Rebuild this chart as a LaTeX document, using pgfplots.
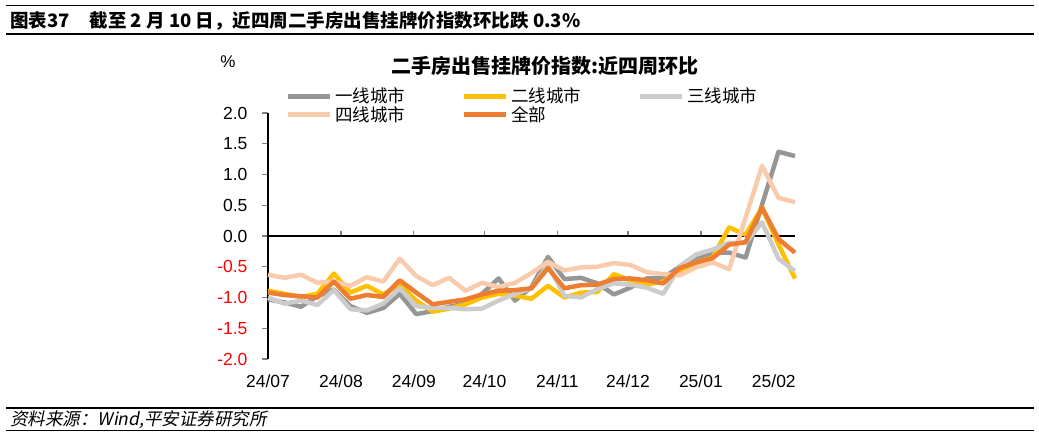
\documentclass[border=0pt]{standalone}
\usepackage{fontspec}
\usepackage{pgfplots}
\usepackage{pgfplotstable}
\pgfplotsset{compat=1.18}
\setmainfont{Liberation Sans}
\newfontfamily\cjk{Noto Sans CJK SC}
\newfontfamily\cjkit[FakeSlant=0.2]{Noto Sans CJK SC}

\definecolor{c1}{RGB}{150,150,150}
\definecolor{c2}{RGB}{255,192,0}
\definecolor{c3}{RGB}{204,204,204}
\definecolor{c4}{RGB}{248,203,173}
\definecolor{c5}{RGB}{237,125,49}

% weekly, x = days since 2024-07-01
\pgfplotstableread{
x   g1    g2    g3    g4    all
0   -1.03 -0.89 -1.00 -0.63 -0.92
7   -1.08 -0.94 -1.10 -0.68 -0.96
14  -1.15 -0.99 -1.05 -0.63 -0.98
21  -0.98 -0.94 -1.12 -0.76 -1.00
28  -0.87 -0.61 -0.88 -0.74 -0.74
35  -1.14 -0.92 -1.19 -0.81 -1.02
42  -1.25 -0.81 -1.21 -0.67 -0.96
49  -1.17 -0.95 -1.10 -0.74 -0.99
56  -0.94 -0.79 -0.85 -0.37 -0.72
63  -1.27 -1.05 -1.14 -0.65 -0.92
70  -1.22 -1.23 -1.17 -0.80 -1.11
77  -1.15 -1.18 -1.17 -0.68 -1.07
84  -1.10 -1.11 -1.19 -0.89 -1.03
91  -0.94 -1.00 -1.18 -0.76 -0.95
98  -0.69 -0.94 -1.05 -0.83 -0.89
105 -1.05 -0.97 -0.94 -0.76 -0.88
112 -0.83 -1.02 -0.85 -0.60 -0.85
119 -0.34 -0.81 -0.47 -0.42 -0.52
126 -0.70 -1.00 -0.97 -0.56 -0.85
133 -0.68 -0.92 -1.00 -0.51 -0.80
140 -0.77 -0.91 -0.86 -0.50 -0.79
147 -0.95 -0.62 -0.77 -0.44 -0.70
154 -0.84 -0.72 -0.79 -0.47 -0.69
161 -0.69 -0.79 -0.84 -0.59 -0.72
168 -0.68 -0.74 -0.94 -0.62 -0.77
175 -0.50 -0.57 -0.49 -0.64 -0.52
182 -0.38 -0.43 -0.30 -0.51 -0.43
189 -0.27 -0.35 -0.22 -0.43 -0.36
196 -0.27  0.14 -0.11 -0.54 -0.14
203 -0.35  0.02 -0.11  0.30 -0.10
210  0.51  0.46  0.22  1.14  0.46
217  1.37 -0.14 -0.37  0.62 -0.05
224  1.30 -0.69 -0.57  0.55 -0.27
}\data

\begin{document}
\begin{tikzpicture}[x=1pt,y=1pt]
\path[use as bounding box] (0,0) rectangle (1039,-438);

% header and footer
\draw[line width=1pt] (6,-6) -- (1034,-6);
\draw[line width=2pt] (6,-34) -- (1034,-34);
\node[anchor=base west, inner sep=0pt, font=\cjk\bfseries\fontsize{18.5}{20}\selectfont]
  at (10,-28) {图表37\hspace{20pt}截至 2 月 10 日，近四周二手房出售挂牌价指数环比跌 0.3\%};
\draw[line width=1.2pt] (6,-408) -- (1034,-408);
\draw[line width=1pt] (6,-430) -- (1034,-430);
\node[anchor=base west, inner sep=0pt, font=\cjkit\fontsize{17.5}{20}\selectfont]
  at (10,-425) {资料来源：Wind,平安证券研究所};

\node[font=\fontsize{17}{20}\selectfont] at (228,-62) {\%};
\node[font=\cjk\bfseries\fontsize{20}{22}\selectfont] at (545,-66) {二手房出售挂牌价指数:近四周环比};

% zero line with month ticks
\begin{axis}[
  at={(268pt,-359pt)}, anchor=south west,
  scale only axis, width=527pt, height=246pt,
  xmin=0, xmax=224, ymin=-2, ymax=2,
  axis x line=middle, axis y line=none,
  x axis line style={-, line width=1.2pt},
  xtick={31,62,92,123,153,184,215}, xticklabels={},
  ytick=\empty,
  tick align=center, major tick length=5pt,
  x tick style={line width=1.2pt, yshift=2.5pt},
]
\end{axis}

\begin{axis}[
  at={(268pt,-359pt)}, anchor=south west,
  scale only axis, width=527pt, height=246pt,
  xmin=0, xmax=224, ymin=-2, ymax=2,
  clip=false,
  axis y line=left, axis x line=bottom,
  x axis line style={draw=none},
  y axis line style={-, line width=1.2pt},
  xtick={0,31,62,92,123,153,184,215},
  xticklabels={\mbox{24/07},\mbox{24/08},\mbox{24/09},\mbox{24/10},\mbox{24/11},\mbox{24/12},\mbox{25/01},\mbox{25/02}},
  major x tick style={draw=none},
  ytick={-2,-1.5,-1,-0.5,0,0.5,1,1.5,2},
  yticklabels={\textcolor{red}{-2.0},\textcolor{red}{-1.5},\textcolor{red}{-1.0},\textcolor{red}{-0.5},0.0,0.5,1.0,1.5,2.0},
  tick align=center, major tick length=6pt,
  y tick style={line width=1.2pt, xshift=-3pt},
  tick label style={font=\fontsize{17.5}{20}\selectfont},
  yticklabel style={xshift=-14pt},
  xticklabel style={yshift=-9pt},
  legend columns=3,
  legend cell align=left,
  legend style={at={(rel axis cs:0,1)}, anchor=north west, xshift=17pt, yshift=26pt,
    draw=none, fill=none, inner sep=0pt, outer sep=0pt, row sep=0pt,
    font=\cjk\fontsize{17.5}{20}\selectfont, nodes={inner sep=1pt},
    /tikz/every odd column/.append style={column sep=2pt},
    /tikz/every even column/.append style={column sep=55pt}},
  legend image code/.code={\draw[#1, line width=5pt] (0pt,0pt) -- (42pt,0pt);},
]
\addplot[c1, line width=4.5pt, line join=round] table[x=x, y=g1] {\data};
\addlegendentry{一线城市}
\addplot[c2, line width=4.5pt, line join=round] table[x=x, y=g2] {\data};
\addlegendentry{二线城市}
\addplot[c3, line width=4.5pt, line join=round] table[x=x, y=g3] {\data};
\addlegendentry{三线城市}
\addplot[c4, line width=4.5pt, line join=round] table[x=x, y=g4] {\data};
\addlegendentry{四线城市}
\addplot[c5, line width=4.5pt, line join=round] table[x=x, y=all] {\data};
\addlegendentry{全部}
\end{axis}
\end{tikzpicture}
\end{document}
